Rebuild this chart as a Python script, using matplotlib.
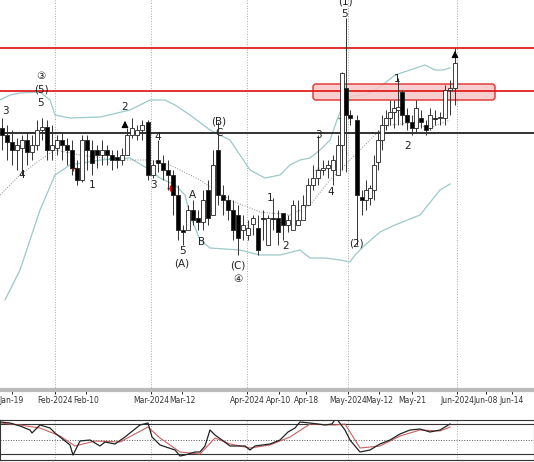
import matplotlib.pyplot as plt
from matplotlib.patches import FancyBboxPatch, Rectangle

# all values are in chart pixel units (y grows downward)
cx = [2, 7, 12, 17, 22, 27, 32, 37, 42, 47, 52, 57, 62, 67, 72, 77, 82, 87, 92, 97,
      102, 107, 112, 117, 122, 127, 132, 137, 142, 148, 153, 158, 163, 168, 173, 178, 183, 188, 193, 198,
      203, 208, 213, 218, 223, 228, 233, 238, 243, 248, 253, 258, 263, 268, 273, 278, 283, 288, 293, 298,
      303, 308, 313, 318, 323, 328, 333, 338, 342, 346, 350, 357, 362, 366, 370, 374, 378, 382, 386, 390,
      394, 398, 402, 407, 412, 416, 421, 426, 430, 435, 440, 445, 450, 455]
co = [128, 135, 142, 150, 148, 140, 152, 145, 130, 127, 150, 148, 140, 145, 150, 168, 180, 140, 150, 150,
      155, 150, 155, 157, 160, 155, 135, 135, 130, 122, 175, 160, 163, 170, 175, 195, 230, 230, 210, 218,
      222, 190, 215, 150, 195, 200, 210, 215, 230, 235, 224, 228, 218, 245, 218, 218, 213, 225, 230, 225,
      220, 205, 185, 178, 170, 168, 170, 175, 145, 88, 115, 120, 197, 200, 198, 190, 162, 140, 125, 118,
      112, 110, 92, 115, 122, 128, 118, 125, 128, 118, 118, 118, 90, 88]
cc = [135, 142, 150, 145, 140, 152, 145, 130, 127, 150, 145, 140, 145, 150, 168, 180, 140, 150, 163, 155,
      150, 155, 160, 160, 155, 135, 128, 130, 125, 175, 165, 163, 170, 175, 195, 230, 232, 210, 220, 222,
      200, 218, 165, 195, 200, 210, 230, 238, 225, 228, 218, 250, 218, 218, 218, 232, 225, 220, 205, 220,
      205, 185, 178, 170, 168, 165, 160, 145, 73, 115, 118, 195, 200, 190, 188, 165, 140, 125, 118, 112,
      108, 107, 115, 122, 128, 108, 122, 130, 115, 118, 117, 90, 88, 63]
ch = [118, 125, 130, 138, 135, 132, 135, 120, 118, 120, 125, 135, 132, 138, 140, 160, 135, 135, 140, 145,
      140, 145, 150, 150, 148, 128, 118, 125, 120, 120, 160, 140, 155, 160, 170, 185, 225, 205, 200, 210,
      190, 180, 150, 122, 185, 195, 200, 205, 215, 220, 215, 215, 210, 215, 198, 210, 215, 215, 200, 200,
      195, 178, 165, 135, 160, 160, 155, 135, 72, 18, 110, 115, 190, 180, 185, 155, 130, 115, 110, 100,
      100, 78, 90, 108, 115, 100, 110, 120, 108, 110, 112, 85, 80, 48]
cl = [150, 160, 165, 170, 175, 165, 160, 150, 140, 160, 160, 155, 160, 165, 175, 185, 182, 170, 175, 168,
      165, 165, 170, 168, 165, 145, 138, 140, 140, 180, 178, 172, 180, 190, 215, 240, 245, 222, 225, 230,
      230, 225, 190, 205, 215, 220, 240, 255, 240, 240, 235, 255, 240, 235, 230, 245, 240, 232, 225, 225,
      215, 200, 190, 185, 175, 178, 185, 175, 170, 172, 125, 245, 215, 210, 205, 200, 170, 150, 130, 125,
      128, 125, 125, 130, 135, 132, 128, 135, 130, 125, 125, 125, 115, 105]

up_x = [0, 10, 20, 40, 50, 55, 70, 100, 130, 150, 165, 175, 190, 210, 230, 240, 250, 265, 280, 290,
        300, 310, 320, 330, 337, 345, 352, 365, 380, 395, 410, 425, 435, 443, 450]
up_y = [100, 95, 93, 92, 100, 115, 118, 117, 110, 100, 100, 105, 115, 130, 140, 155, 170, 178, 175, 165,
        160, 158, 150, 140, 120, 100, 96, 95, 87, 75, 70, 65, 70, 70, 68]
lo_x = [5, 20, 40, 55, 70, 100, 130, 150, 160, 175, 185, 190, 200, 210, 240, 260, 280, 300, 310, 325,
        340, 350, 355, 365, 380, 395, 420, 440, 450]
lo_y = [300, 270, 210, 175, 165, 160, 158, 170, 178, 185, 195, 215, 240, 248, 250, 255, 255, 250, 258, 258,
        260, 262, 255, 245, 232, 225, 215, 190, 184]
mid_x = [0, 20, 40, 55, 80, 120, 150, 170, 200, 230, 260, 290, 310, 330, 345, 360, 375, 390, 410, 430, 450]
mid_y = [195, 175, 160, 150, 155, 160, 160, 165, 180, 200, 212, 215, 205, 180, 165, 150, 135, 125, 123, 128, 120]

osc_x = [0, 10, 20, 30, 32, 40, 50, 55, 60, 70, 73, 80, 90, 100, 105, 115, 125, 140, 148, 152,
         160, 175, 180, 185, 195, 200, 205, 210, 215, 222, 230, 245, 250, 255, 270, 280, 288, 295, 300, 310,
         325, 332, 336, 345, 350, 360, 370, 380, 390, 400, 410, 420, 430, 440, 450]
osc_k = [422, 423, 426, 430, 433, 425, 428, 433, 437, 445, 455, 441, 440, 446, 442, 444, 437, 425, 423, 437,
         445, 450, 456, 455, 452, 452, 446, 430, 435, 440, 446, 446, 450, 446, 444, 440, 432, 428, 422, 423,
         425, 424, 418, 430, 440, 452, 450, 444, 440, 434, 430, 429, 432, 430, 424]
osc_d_x = [0, 20, 40, 60, 75, 95, 120, 148, 160, 180, 200, 215, 230, 250, 270, 290, 310, 335, 345, 360, 380, 400, 420, 440, 450]
osc_d = [423, 425, 428, 436, 446, 441, 442, 427, 438, 452, 454, 438, 444, 448, 445, 437, 424, 425, 424, 448, 446, 436, 430, 431, 427]

tick_x = [12, 55, 86, 151, 182, 247, 279, 306, 348, 379, 412, 457, 486, 512]
tick_lab = ['Jan-19', 'Feb-2024', 'Feb-10', 'Mar-2024', 'Mar-12', 'Apr-2024', 'Apr-10', 'Apr-18',
            'May-2024', 'May-12', 'May-21', 'Jun-2024', 'Jun-08', 'Jun-14']
month_x = [55, 151, 247, 348, 457]

wave_txt = ['3', '5', '(5)', '③', '4', '1', '2', '3', '4', '5', '(A)', 'A', 'B', '(B)', 'C', '(C)', '④',
            '1', '2', '3', '4', '5', '(1)', '(2)', '1', '2']
wave_x = [5, 40, 41, 41, 22, 92, 125, 153, 158, 182, 182, 192, 202, 219, 219, 238, 238,
          270, 286, 318, 331, 345, 345, 356, 397, 408]
wave_y = [111, 103, 90, 76, 175, 185, 107, 185, 137, 251, 264, 195, 242, 121, 133, 265, 279,
          198, 246, 135, 192, 14, 2, 243, 79, 146]

fig = plt.figure(figsize=(5.34, 4.62), dpi=100)
ax = fig.add_axes([0, 72 / 462, 1, 390 / 462])
ax.set_xlim(0, 534)
ax.set_ylim(390, 0)

for x in month_x:
    ax.axvline(x, color='#aaaaaa', lw=0.7, ls=':')

ax.plot(up_x, up_y, color='#9cc9c9', lw=0.9)
ax.plot(lo_x, lo_y, color='#9cc9c9', lw=0.9)
ax.plot(mid_x, mid_y, color='#888888', lw=0.7, ls=':')

ax.add_patch(FancyBboxPatch((313, 84), 182, 16, boxstyle='round,pad=0,rounding_size=3',
                            fc='#f7c6c6', ec='#e03030', lw=1.2, alpha=0.85, zorder=2))
ax.axhline(48, color='#e02020', lw=1.3, zorder=2)
ax.axhline(91, color='#e02020', lw=1.3, zorder=2)
ax.axhline(133, color='#222222', lw=1.3, zorder=2)

for x, o, c, h, l in zip(cx, co, cc, ch, cl):
    ax.vlines(x, h, l, color='#333333', lw=0.7, zorder=3)
    bull = c < o
    ax.add_patch(Rectangle((x - 1.6, min(o, c)), 3.2, max(abs(o - c), 1),
                           fc='white' if bull else 'black', ec='#222222', lw=0.6, zorder=4))

ax.annotate('', xy=(455, 48), xytext=(455, 60), arrowprops=dict(arrowstyle='-|>', color='black', lw=0.8))
ax.annotate('', xy=(125, 118), xytext=(125, 128), arrowprops=dict(arrowstyle='-|>', color='black', lw=0.8))
ax.plot([73, 170], [168, 188], 'r+', ms=5)
ax.plot([318, 341], [170, 118], '+', color='#3a9a3a', ms=5)

for t, x, y in zip(wave_txt, wave_x, wave_y):
    ax.text(x, y, t, ha='center', va='center', fontsize=7.5, color='#222222')

ax.set_yticks([])
ax.set_xticks(tick_x)
ax.set_xticklabels(tick_lab, fontsize=5.5, color='#333333')
ax.tick_params(axis='x', length=3, pad=1, width=0.6)
for s in ['top', 'left', 'right']:
    ax.spines[s].set_visible(False)
ax.spines['bottom'].set_color('#bbbbbb')
ax.spines['bottom'].set_linewidth(3)

osc = fig.add_axes([0, 2 / 462, 1, 40 / 462])
osc.set_xlim(0, 534)
osc.set_ylim(460, 420)
for x in month_x:
    osc.axvline(x, color='#aaaaaa', lw=0.7, ls=':')
osc.axhline(424, color='#333333', lw=0.8)
osc.axhline(440, color='#555555', lw=0.7, ls=':')
osc.axhline(454, color='#333333', lw=0.8)
osc.plot(osc_d_x, osc_d, color='#c86060', lw=0.8)
osc.plot(osc_x, osc_k, color='#222222', lw=0.9)
osc.set_xticks([])
osc.set_yticks([])
for s in osc.spines.values():
    s.set_color('#333333')
    s.set_linewidth(0.8)

fig.savefig('out.png', dpi=100)
